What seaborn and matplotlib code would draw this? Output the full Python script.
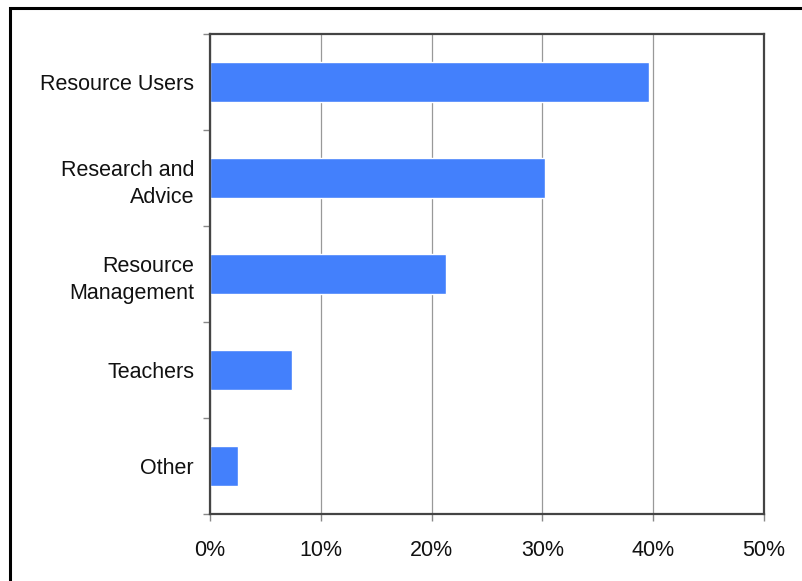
import matplotlib.pyplot as plt
import matplotlib.patches as patches
import numpy as np
import pandas as pd
import seaborn as sns

# data
groups = ["Resource Users", "Research and\nAdvice", "Resource\nManagement", "Teachers", "Other"]
share = [39.6, 30.2, 21.3, 7.4, 2.5]
xticks = [0, 10, 20, 30, 40, 50]
xlabels = ["0%", "10%", "20%", "30%", "40%", "50%"]

df = pd.DataFrame({"group": groups, "share": share})

sns.set_theme(style="white")
plt.rcParams['font.family'] = ['Liberation Sans', 'DejaVu Sans']

fig = plt.figure(figsize=(8.03, 5.81), dpi=100)
ax = fig.add_axes([210 / 803, 67 / 581, 554 / 803, 480 / 581])

sns.barplot(data=df, x="share", y="group", orient="h", color="#4380fc",
            saturation=1, width=0.42, ax=ax, zorder=3)

ax.set_xlim(0, 50)
ax.set_ylim(4.5, -0.5)
ax.set_xticks(xticks)
ax.set_xticklabels(xlabels, fontsize=15.5, color="#111111")
ax.set_yticks(range(len(groups)))
ax.set_yticklabels(groups, fontsize=15.5, color="#111111", ha="right", linespacing=1.4)
ax.set_yticks(np.arange(-0.5, len(groups), 1.0), minor=True)
ax.tick_params(axis="y", which="major", length=0, pad=11.5)
ax.tick_params(axis="y", which="minor", length=5, width=1, color="#888888", left=True)
ax.tick_params(axis="x", which="major", length=5, width=1, color="#888888", bottom=True, pad=14)
ax.set_xlabel("")
ax.set_ylabel("")

# vertical gridlines
ax.grid(axis="x", color="#999999", linewidth=0.9, zorder=0)
ax.grid(axis="y", visible=False)

for side in ["left", "right", "top", "bottom"]:
    ax.spines[side].set_visible(True)
    ax.spines[side].set_color("#444444")
    ax.spines[side].set_linewidth(1.6)
    ax.spines[side].set_zorder(4)

# outer frame, only its left and top edges fall inside the image
frame = patches.Rectangle((10.5 / 803, -0.1), 1.2, 1.1 - 7.5 / 581, transform=fig.transFigure,
                          fill=False, edgecolor="black", linewidth=2.2)
fig.patches.append(frame)

fig.savefig("out.png", dpi=100)
